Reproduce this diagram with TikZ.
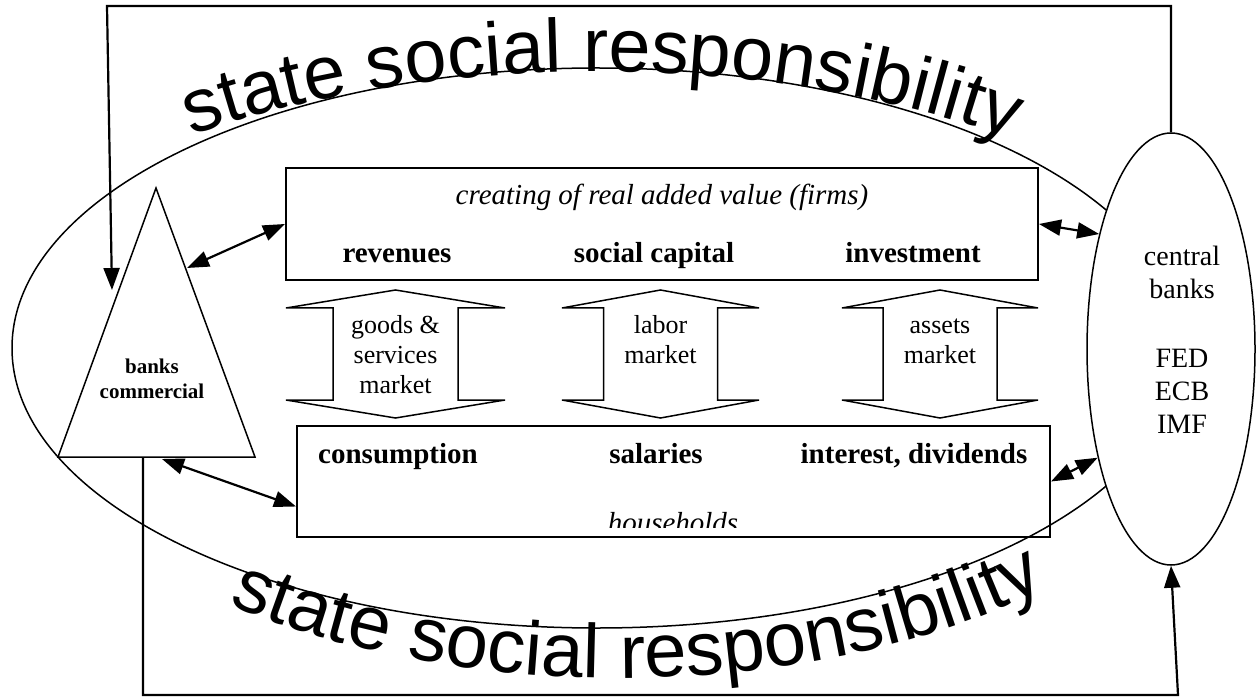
\documentclass[tikz,border=0pt]{standalone}
\usepackage{fontspec}
\setmainfont{Liberation Serif}
\newfontfamily\bigsans{Liberation Sans}
\usetikzlibrary{arrows.meta,decorations.text,shapes.geometric}
\newcommand\blockarrow[3]{%
  \draw[blockarr] (#1,407) -- (#1+#2,389) -- (#1+#3,389) -- (#1+#3,297) -- (#1+#2,297)
    -- (#1,279) -- (#1-#2,297) -- (#1-#3,297) -- (#1-#3,389) -- (#1-#2,389) -- cycle;}
\tikzset{
  dtip/.tip={Triangle[length=22pt,width=16pt]},
}
\begin{document}
\begin{tikzpicture}[x=1pt,y=1pt,
  boxed/.style={draw, line width=2pt, inner sep=0pt},
  ellline/.style={line width=1.5pt},
  conn/.style={line width=2.2pt, dtip-dtip},
  flow/.style={line width=2.2pt, -dtip},
  boldlab/.style={font=\fontsize{29}{33}\selectfont\bfseries, anchor=base, inner sep=0pt},
  itallab/.style={font=\fontsize{29}{33}\selectfont\itshape, anchor=base, inner sep=0pt},
  mktlab/.style={font=\fontsize{26}{30}\selectfont, align=center, anchor=north, inner sep=0pt},
  blockarr/.style={draw, line width=1.5pt, fill=white},
  bigtext/.style={decorate, decoration={text along path, text align=center,
     text={|\bigsans\fontsize{#1}{80}\selectfont|state social responsibility}}}
]
\useasboundingbox (0,0) rectangle (1257,697);
\fill[white] (0,0) rectangle (1257,697);

% large ellipse
\draw[ellline] (597,349) ellipse [x radius=585pt, y radius=280pt];

% curved texts
\path[bigtext=75.5] (-1.3,442.5) arc[start angle=159.2, end angle=19.2, x radius=640pt, y radius=283pt];
\path[bigtext=76] (46.9,224.9) arc[start angle=201.5, end angle=344.5, x radius=616pt, y radius=325pt];

% commercial banks triangle
\coordinate (tapex) at (156,509);
\coordinate (tleft) at (58,240);
\coordinate (tright) at (255,240);
\draw[ellline, fill=white] (tapex) -- (tleft) -- (tright) -- cycle;
\node[font=\fontsize{21}{25}\selectfont\bfseries, align=center, anchor=north, inner sep=0pt] (bct) at (152,341.5) {\strut banks\\commercial};

% central banks ellipse
\node[draw, ellline, fill=white, ellipse, minimum width=168pt, minimum height=432pt, inner sep=0pt] (cb) at (1171,348) {};
\node[font=\fontsize{28}{33}\selectfont, align=center, anchor=north, inner sep=0pt] (cbt) at (1182,455) {\strut central\\banks\\[36pt]FED\\ECB\\IMF};

% firms box
\node[boxed, minimum width=752pt, minimum height=112pt] (firms) at (662,473) {};
\node[itallab] (firmst) at (662,492) {creating of real added value (firms)};
\node[boldlab] (rev) at (397,434) {revenues};
\node[boldlab] (soc) at (654,434) {social capital};
\node[boldlab] (inv) at (913,434) {investment};

% households box
\node[boxed, minimum width=753pt, minimum height=111pt] (hh) at (673.5,215.5) {};
\node[boldlab] (cons) at (398,234) {consumption};
\node[boldlab] (sal) at (656,234) {salaries};
\node[boldlab] (intd) at (914,234) {interest, dividends};
\begin{scope}
  \clip (297,170) rectangle (1050,271);
  \node[itallab] (hht) at (673,165) {households};
\end{scope}

% market block arrows
\blockarrow{395.5}{109.5}{62.5}
\blockarrow{660.5}{98.5}{57}
\blockarrow{940}{98}{57}
\node[mktlab] (gs) at (395.5,385) {\strut goods \&\\services\\market};
\node[mktlab] (lab) at (660.5,385) {\strut labor\\market};
\node[mktlab] (ast) at (940,385) {\strut assets\\market};

% connectors
\coordinate (tA) at (187,429);
\coordinate (tB) at (162,238);
\draw[conn] (tA) -- (firms.west);
\draw[conn] (tB) -- ([yshift=-25pt]hh.west);
\draw[conn] (firms.east) -- (cb.122);
\draw[conn] (hh.east) -- (cb.236);

% outer frame loops
\coordinate (tl) at (107,691);
\coordinate (dl) at (112,407);
\draw[flow] (cb.north) |- (tl) -- (dl);
\coordinate (bb) at (143,240);
\coordinate (bl) at (143,2);
\coordinate (br) at (1178,2);
\draw[flow] (bb) -- (bl) -- (br) -- (cb.south);
\end{tikzpicture}
\end{document}
